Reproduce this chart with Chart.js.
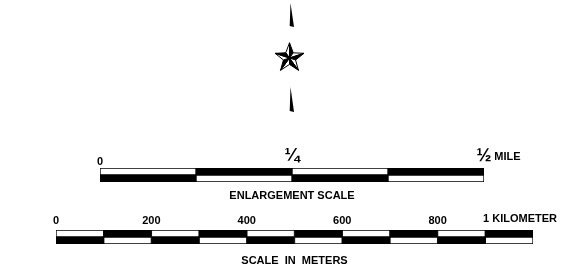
<!DOCTYPE html>
<html>
<head>
<meta charset="utf-8">
<script src="https://cdn.jsdelivr.net/npm/chart.js@4/dist/chart.umd.min.js"></script>
<style>
  html, body { margin: 0; padding: 0; background: #fff; }
  #wrap { position: relative; width: 577px; height: 278px; overflow: hidden; }
  #wrap canvas { position: absolute; left: 0; top: 0; }
</style>
</head>
<body>
<div id="wrap">
  <canvas id="mileChart" width="577" height="278"></canvas>
  <canvas id="meterChart" width="577" height="278"></canvas>
</div>
<script>
// ---------------- DATA ----------------
const mileBoundaries = [0, 0.125, 0.25, 0.375, 0.5];
const mileZeroValue = [0];
const mileZeroLabel = ['0'];
const mileFractionValues = [0.25, 0.5];
const mileFractionLabels = ['¼', '½'];
const mileUnitLabel = 'MILE';
const mileTitle = 'ENLARGEMENT SCALE';

const meterBoundaries = [0, 100, 200, 300, 400, 500, 600, 700, 800, 900, 1000];
const meterTickValues = [0, 200, 400, 600, 800];
const meterTickLabels = ['0', '200', '400', '600', '800'];
const meterEndValue = 1000;
const meterEndLabel = '1 KILOMETER';
const meterTitle = 'SCALE  IN  METERS';

const rows = ['top', 'bottom'];

// ---------------- HELPERS ----------------
Chart.defaults.font.family = '"Liberation Sans", Arial, Helvetica, sans-serif';
Chart.defaults.font.weight = 'bold';
Chart.defaults.color = '#000';

function segmentDatasets(bounds) {
  const sets = [];
  for (let i = 0; i < bounds.length - 1; i++) {
    const seg = [bounds[i], bounds[i + 1]];
    sets.push({
      data: [seg, seg],
      backgroundColor: i % 2 === 0 ? ['#ffffff', '#000000'] : ['#000000', '#ffffff'],
      borderColor: '#000000',
      borderWidth: 1,
      borderSkipped: false,
      grouped: false,
      categoryPercentage: 1,
      barPercentage: 1
    });
  }
  return sets;
}

function baseOptions(pad, titleText, titlePadTop, xScales) {
  return {
    indexAxis: 'y',
    responsive: false,
    animation: false,
    events: [],
    devicePixelRatio: 1,
    layout: { padding: pad },
    plugins: {
      legend: { display: false },
      tooltip: { enabled: false },
      title: {
        display: true,
        position: 'bottom',
        text: titleText,
        color: '#000',
        font: { size: 11, weight: 'bold', lineHeight: 1.2 },
        padding: { top: titlePadTop, bottom: 0 }
      }
    },
    scales: Object.assign({
      y: {
        type: 'category',
        labels: rows,
        display: false,
        grid: { display: false }
      }
    }, xScales)
  };
}

// A label-only axis above the bar. Labels are drawn in mirror mode (no clipping),
// with their vertical middle "lift" px above the bar top.
function labelAxis(max, values, labels, fontSize, lift, labelOffset) {
  const lh = fontSize * 1.2;
  return {
    type: 'linear',
    axis: 'x',
    position: 'top',
    min: 0,
    max: max,
    grid: { display: false, drawTicks: false },
    border: { display: false },
    afterBuildTicks: s => { s.ticks = values.map(v => ({ value: v })); },
    afterFit: s => { s.height = 0; s.paddingLeft = 0; s.paddingRight = 0; },
    ticks: {
      mirror: true,
      padding: -(lift + lh / 2),
      autoSkip: false,
      maxRotation: 0,
      minRotation: 0,
      color: '#000',
      labelOffset: labelOffset || 0,
      font: { size: fontSize, weight: 'bold', lineHeight: 1.2 },
      callback: (v, i) => labels[i]
    }
  };
}

// ---------------- NORTH ARROW (decoration) ----------------
const northArrowPlugin = {
  id: 'northArrow',
  afterDraw(chart, args, o) {
    const ctx = chart.ctx;
    const cx = chart.scales.x.getPixelForValue(o.atValue) + o.dx;
    const cy = o.cy, R = o.r, r = o.r * 0.42;
    ctx.save();
    ctx.lineJoin = 'miter';
    ctx.lineWidth = 1;
    ctx.strokeStyle = '#000';
    for (let k = 0; k < 5; k++) {
      const a = -Math.PI / 2 + k * 2 * Math.PI / 5;
      const tip = [cx + R * Math.cos(a), cy + R * Math.sin(a)];
      const aL = a - Math.PI / 5, aR = a + Math.PI / 5;
      const inL = [cx + r * Math.cos(aL), cy + r * Math.sin(aL)];
      const inR = [cx + r * Math.cos(aR), cy + r * Math.sin(aR)];
      ctx.beginPath();
      ctx.moveTo(cx, cy); ctx.lineTo(tip[0], tip[1]); ctx.lineTo(inL[0], inL[1]); ctx.closePath();
      ctx.fillStyle = '#fff'; ctx.fill(); ctx.stroke();
      ctx.beginPath();
      ctx.moveTo(cx, cy); ctx.lineTo(tip[0], tip[1]); ctx.lineTo(inR[0], inR[1]); ctx.closePath();
      ctx.fillStyle = '#000'; ctx.fill(); ctx.stroke();
    }
    ctx.fillStyle = '#000';
    const ax = cx + 1;
    [[o.upTop, o.upBottom], [o.lowTop, o.lowBottom]].forEach(([t, b]) => {
      ctx.beginPath();
      ctx.moveTo(ax, t);
      ctx.lineTo(ax + 3.5, b + 1);
      ctx.lineTo(ax - 0.8, b);
      ctx.closePath();
      ctx.fill();
    });
    ctx.restore();
  }
};

// ---------------- ENLARGEMENT (MILE) SCALE ----------------
const mileMax = mileBoundaries[mileBoundaries.length - 1];
const mileOptions = baseOptions({ left: 100, right: 93, top: 168, bottom: 75.8 }, mileTitle, 7, {
  x:  labelAxis(mileMax, mileZeroValue, mileZeroLabel, 11, 5.7, 0),
  xf: labelAxis(mileMax, mileFractionValues, mileFractionLabels, 18, 12, 0),
  xu: labelAxis(mileMax, [mileMax], [mileUnitLabel], 11, 10.7, 23.5)
});
mileOptions.plugins.northArrow = { atValue: 0.25, dx: -2.5, cy: 58, r: 15.2, upTop: 3, upBottom: 26, lowTop: 87, lowBottom: 111 };

new Chart(document.getElementById('mileChart'), {
  type: 'bar',
  data: { labels: rows, datasets: segmentDatasets(mileBoundaries) },
  plugins: [northArrowPlugin],
  options: mileOptions
});

// ---------------- METER SCALE ----------------
new Chart(document.getElementById('meterChart'), {
  type: 'bar',
  data: { labels: rows, datasets: segmentDatasets(meterBoundaries) },
  options: baseOptions({ left: 56, right: 44, top: 230, bottom: 10.8 }, meterTitle, 10, {
    x:  labelAxis(meterEndValue, meterTickValues, meterTickLabels, 11, 9.2, 0),
    x2: labelAxis(meterEndValue, [meterEndValue], [meterEndLabel], 11, 11, -13)
  })
});
</script>
</body>
</html>
